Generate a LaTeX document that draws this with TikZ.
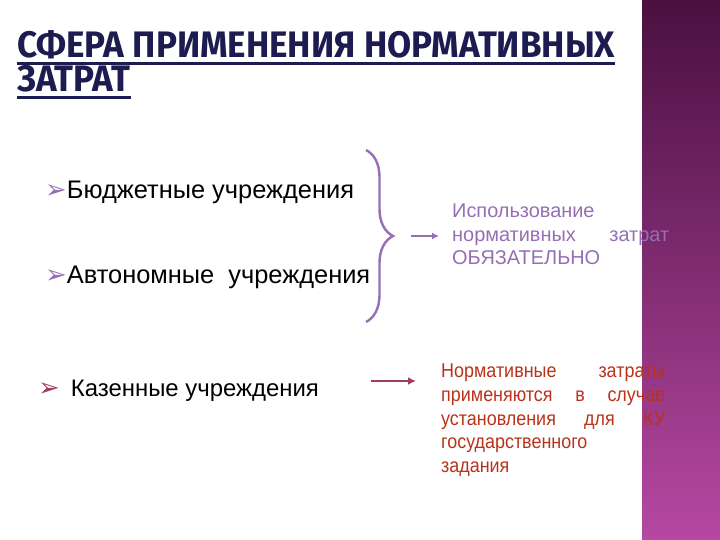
\documentclass[tikz,border=0pt]{standalone}
\usepackage{fontspec}
\setmainfont{Liberation Sans}
\newfontfamily\titlefont{Fira Sans}[FakeStretch=0.95]
\newfontfamily\narrowfont{Liberation Sans}[FakeStretch=0.9]
\newfontfamily\symfont{DejaVu Sans}
\usetikzlibrary{calc,arrows.meta,decorations.pathreplacing}
\definecolor{titleblue}{RGB}{28,28,80}
\definecolor{lilac}{RGB}{150,110,180}
\definecolor{plum}{RGB}{160,60,100}
\definecolor{rust}{RGB}{185,50,25}
\definecolor{bartop}{RGB}{74,16,64}
\definecolor{barbottom}{RGB}{182,72,162}
\tikzset{
  item/.style={anchor=base west, inner sep=0, font=\fontsize{25.5}{28}\selectfont},
  titleline/.style={anchor=base west, inner sep=0, text=titleblue, font=\titlefont\bfseries\fontsize{37}{40}\selectfont},
}
\newcommand{\pointer}[1]{{\symfont\color{#1}\fontsize{26}{26}\selectfont ➢}}
\begin{document}
\begin{tikzpicture}[x=1bp,y=-1bp]
    \useasboundingbox (0,0) rectangle (720,540);
    \shade[top color=bartop, bottom color=barbottom] (642,0) rectangle (720,540);

    \node[titleline] (title1) at (17,58) {СФЕРА ПРИМЕНЕНИЯ НОРМАТИВНЫХ};
    \node[titleline] (title2) at (17,92) {ЗАТРАТ};
    \draw[titleblue, line width=3bp] ($(title1.base west)+(0,6)$) -- ($(title1.base east)+(0,6)$);
    \draw[titleblue, line width=3bp] ($(title2.base west)+(0,6)$) -- ($(title2.base east)+(0,6)$);

    \node[item] (budget) at (45,199) {\pointer{lilac}Бюджетные учреждения};
    \node[item] (auto) at (45,284) {\pointer{lilac}Автономные\ \ учреждения};
    \node[item, font=\fontsize{24}{28}\selectfont] (kazen) at (38,396) {\pointer{plum}\hspace{11bp}Казенные учреждения};

    % brace and arrows
    \coordinate (braceTop) at (366,150);
    \coordinate (braceBot) at (366,322);
    \draw[lilac, line width=2.4bp, decorate, decoration={brace, amplitude=27bp}] (braceTop) -- (braceBot);
    \coordinate (arrowOneStart) at (411,236);
    \coordinate (arrowOneEnd) at (439,236);
    \draw[lilac, line width=1.8bp, -{Latex[length=7bp,width=7bp]}] (arrowOneStart) -- (arrowOneEnd);
    \coordinate (arrowTwoStart) at (371,381);
    \coordinate (arrowTwoEnd) at (416,381);
    \draw[plum, line width=2.6bp, -{Latex[length=8bp,width=8bp]}] (arrowTwoStart) -- (arrowTwoEnd);

    \node[anchor=north west, inner sep=0, text=lilac, text width=217bp, align=left,
          font=\fontsize{20}{23.5}\selectfont] (usage) at (452,204)
        {Использование\\ нормативных\hfill затрат\\ ОБЯЗАТЕЛЬНО};
    \node[anchor=north west, inner sep=0, text=rust, text width=224bp, align=left,
          font=\narrowfont\fontsize{20}{23.7}\selectfont] (rule) at (441,364)
        {Нормативные\hfill затраты\\ применяются\hfill в\hfill случае\\ установления\hfill для\hfill КУ\\ государственного\\ задания};
\end{tikzpicture}
\end{document}
